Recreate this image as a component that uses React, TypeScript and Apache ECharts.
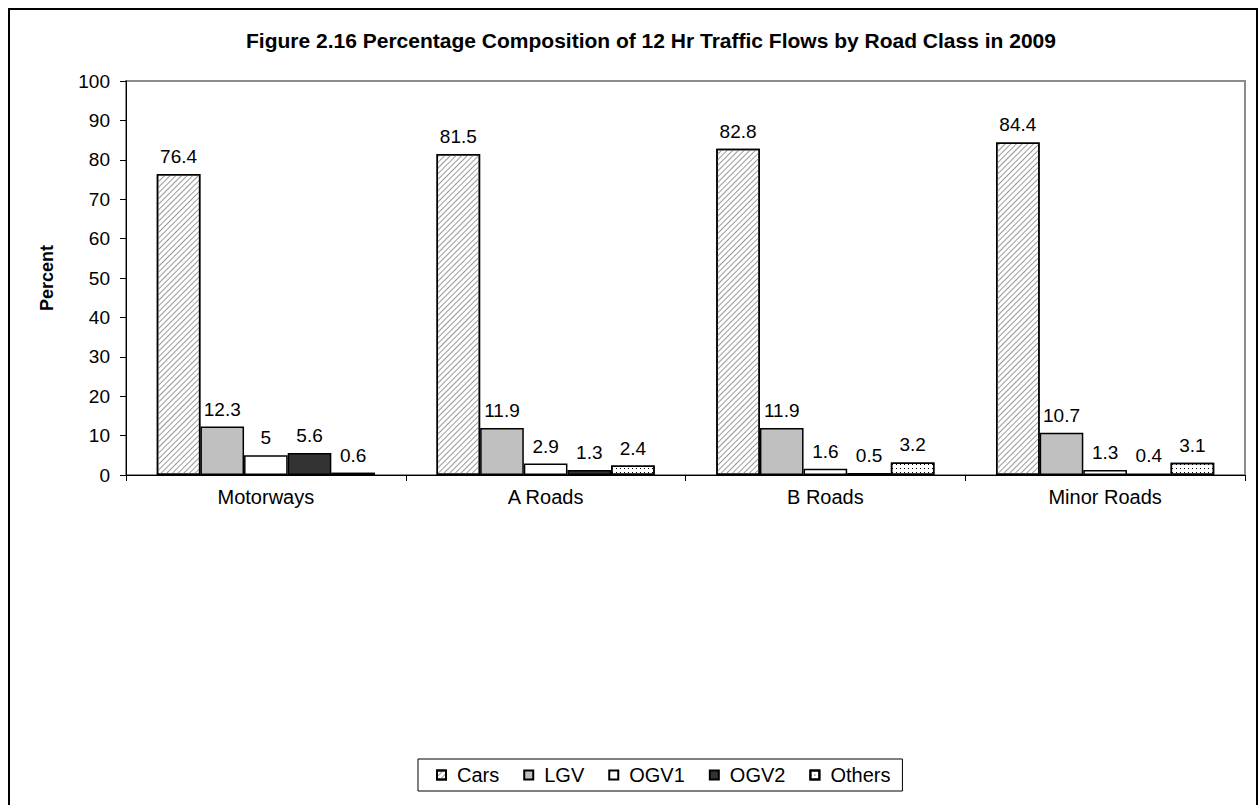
import React, { useEffect, useRef } from "react";
import * as echarts from "echarts";

const categories = ["Motorways", "A Roads", "B Roads", "Minor Roads"];
const seriesNames = ["Cars", "LGV", "OGV1", "OGV2", "Others"];
const cars = [76.4, 81.5, 82.8, 84.4];
const lgv = [12.3, 11.9, 11.9, 10.7];
const ogv1 = [5, 2.9, 1.6, 1.3];
const ogv2 = [5.6, 1.3, 0.5, 0.4];
const others = [0.6, 2.4, 3.2, 3.1];
const yTicks = { min: 0, max: 100, interval: 10 };

const FONT = "Liberation Sans";

export default function App() {
  const ref = useRef<HTMLDivElement>(null);
  useEffect(() => {
    if (!ref.current) return;
    const chart = echarts.init(ref.current, null, { renderer: "svg" });
    const label = {
      show: true,
      position: "top",
      distance: 8,
      color: "#000",
      fontSize: 19,
      fontFamily: FONT,
    };
    const base = (name: string, data: number[], itemStyle: any) => ({
      name,
      type: "bar",
      data,
      barGap: "0%",
      barCategoryGap: "22%",
      label,
      itemStyle: { borderColor: "#000", borderWidth: 1.5, ...itemStyle },
      emphasis: { disabled: true },
    });
    chart.setOption({
      animation: false,
      backgroundColor: "#fff",
      title: {
        text: "Figure 2.16 Percentage Composition of 12 Hr Traffic Flows by Road Class in 2009",
        left: 646,
        textAlign: "center",
        top: 25,
        textStyle: { fontFamily: FONT, fontSize: 21, fontWeight: "bold", color: "#000" },
      },
      graphic: [
        {
          type: "rect",
          shape: { x: 9, y: 9, width: 1248, height: 820 },
          style: { fill: "none", stroke: "#000", lineWidth: 2 },
          silent: true,
        },
      ],
      grid: {
        left: 126,
        right: 15,
        top: 81,
        bottom: 330,
        show: true,
        borderColor: "#8c8c8c",
        borderWidth: 2,
      },
      legend: {
        data: seriesNames,
        left: 418,
        top: 759,
        padding: [6, 12, 6, 18],
        itemGap: 24,
        itemWidth: 9,
        itemHeight: 9,
        borderColor: "#000",
        borderWidth: 1,
        icon: "rect",
        textStyle: { fontFamily: FONT, fontSize: 20, color: "#000", padding: [0, 0, 0, 6] },
      },
      xAxis: {
        type: "category",
        data: categories,
        axisLine: { lineStyle: { color: "#000", width: 1 } },
        axisTick: { show: true, length: 6, lineStyle: { color: "#000" } },
        axisLabel: { color: "#000", fontSize: 20, fontFamily: FONT, margin: 12 },
      },
      yAxis: {
        type: "value",
        min: yTicks.min,
        max: yTicks.max,
        interval: yTicks.interval,
        name: "Percent",
        nameLocation: "middle",
        nameGap: 70,
        nameTextStyle: { fontFamily: FONT, fontSize: 18, fontWeight: "bold", color: "#000" },
        axisLine: { show: true, lineStyle: { color: "#000", width: 1 } },
        axisTick: { show: true, length: 6, lineStyle: { color: "#000" } },
        axisLabel: { color: "#000", fontSize: 19, fontFamily: FONT, margin: 16 },
        splitLine: { show: false },
      },
      series: [
        base("Cars", cars, {
          color: "#fff",
          decal: {
            symbol: "rect",
            symbolSize: 1,
            color: "#999",
            dashArrayX: [1, 0],
            dashArrayY: [1, 2.5],
            rotation: -Math.PI / 4,
          },
        }),
        base("LGV", lgv, { color: "#c0c0c0" }),
        base("OGV1", ogv1, { color: "#fff" }),
        base("OGV2", ogv2, { color: "#333333" }),
        base("Others", others, {
          color: "#fff",
          decal: {
            symbol: "rect",
            symbolSize: 1,
            color: "#000",
            dashArrayX: [1, 3],
            dashArrayY: [1, 3],
            rotation: 0,
          },
        }),
      ],
    });
    return () => chart.dispose();
  }, []);
  return (
    <div
      ref={ref}
      style={{ position: "fixed", left: 0, top: 0, width: 1260, height: 805 }}
    />
  );
}
